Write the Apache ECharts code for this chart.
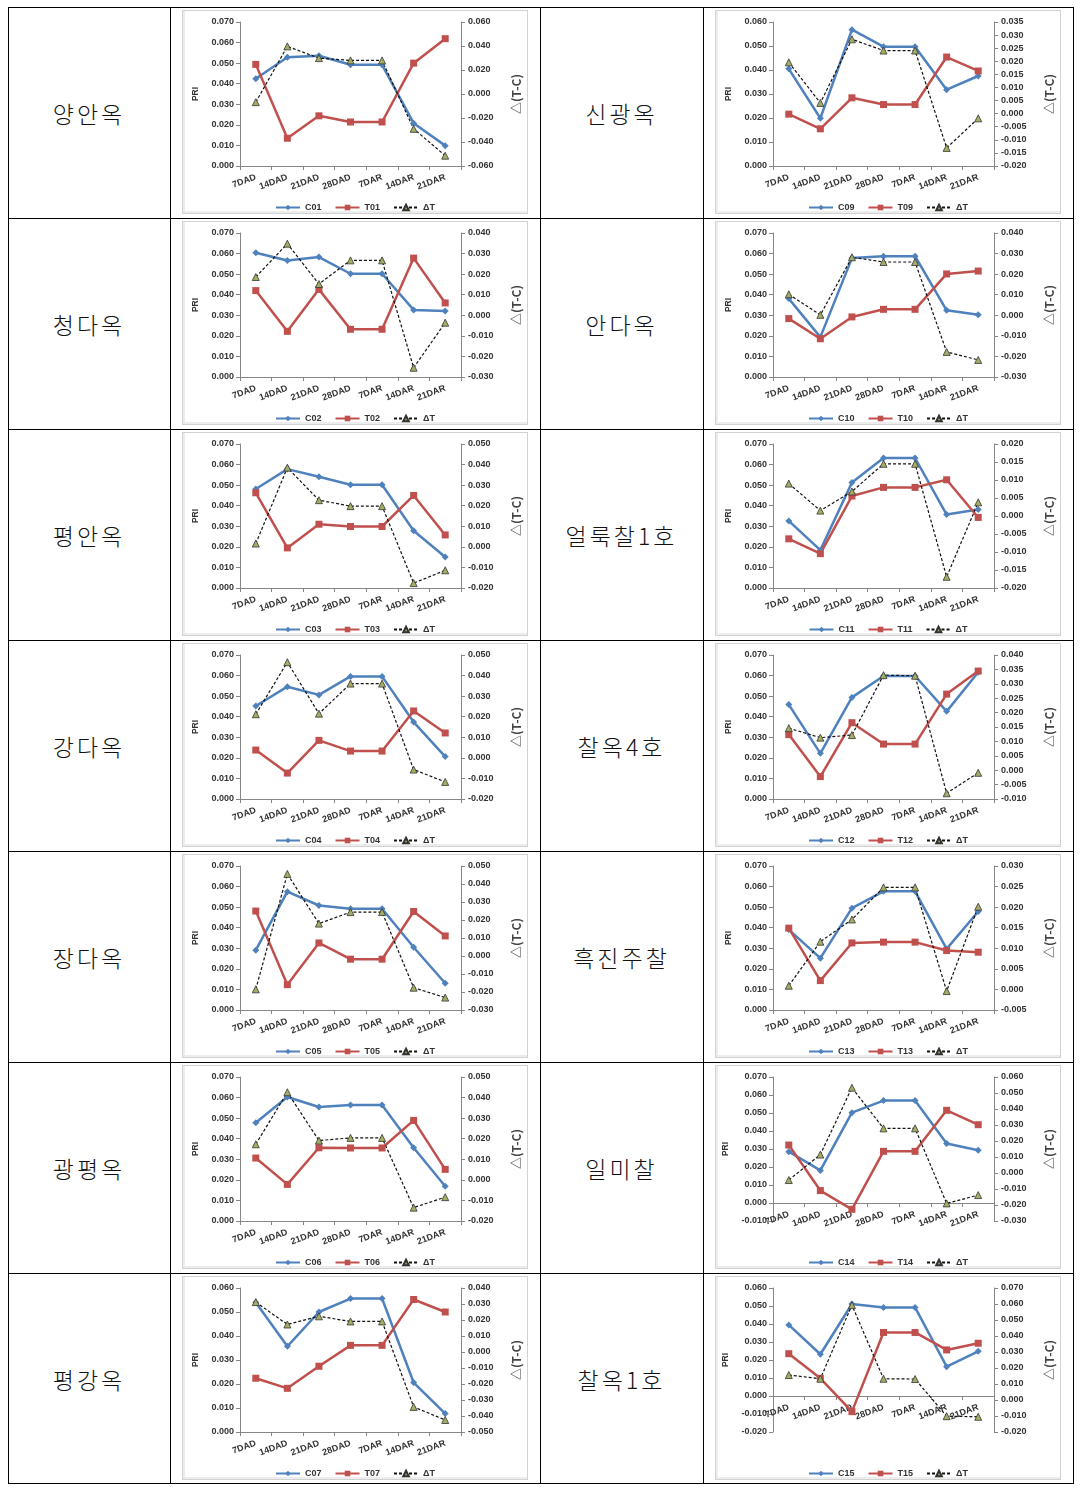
<!DOCTYPE html>
<html>
<head>
<meta charset="utf-8">
<script src="https://cdn.jsdelivr.net/npm/echarts/dist/echarts.min.js"></script>
<style>
  html, body { margin: 0; padding: 0; background: #fff; }
  body { width: 1084px; height: 1495px; position: relative; overflow: hidden; }
  .hl { position: absolute; height: 1px; background: #000; }
  .vl { position: absolute; width: 1px; background: #000; }
  .frame { position: absolute; border: 1px solid #d2d2d2; box-shadow: inset 2px -2px 0 #ededed; box-sizing: border-box; }
  .lab { position: absolute; display: flex; align-items: center; justify-content: center;
         font-family: "Noto Sans CJK KR", sans-serif; font-size: 23px; letter-spacing: 3px; color: #111; font-weight: 300; }
  .chart { position: absolute; width: 370px; height: 211px; }
</style>
</head>
<body>
<script>
// ---------------- data ----------------
const categories = ['7DAD', '14DAD', '21DAD', '28DAD', '7DAR', '14DAR', '21DAR'];
const varieties = ['양안옥', '청다옥', '평안옥', '강다옥', '장다옥', '광평옥', '평강옥',
                   '신광옥', '안다옥', '얼룩찰1호', '찰옥4호', '흑진주찰', '일미찰', '찰옥1호'];
const codes = ['01', '02', '03', '04', '05', '06', '07', '09', '10', '11', '12', '13', '14', '15'];

const C01 = [0.0424, 0.0529, 0.0536, 0.0492, 0.0492, 0.0208, 0.0099];
const T01 = [0.0494, 0.0135, 0.0244, 0.0214, 0.0214, 0.0500, 0.0619];
const D01 = [-0.0068, 0.0397, 0.0299, 0.0280, 0.0280, -0.0290, -0.0514];

const C02 = [0.0604, 0.0566, 0.0583, 0.0502, 0.0502, 0.0326, 0.0321];
const T02 = [0.0420, 0.0222, 0.0426, 0.0232, 0.0232, 0.0578, 0.0360];
const D02 = [0.0186, 0.0348, 0.0152, 0.0267, 0.0267, -0.0255, -0.0036];

const C03 = [0.0481, 0.0578, 0.0541, 0.0502, 0.0502, 0.0278, 0.0151];
const T03 = [0.0463, 0.0195, 0.0310, 0.0299, 0.0299, 0.0450, 0.0258];
const D03 = [0.0016, 0.0385, 0.0227, 0.0198, 0.0198, -0.0176, -0.0114];

const C04 = [0.0452, 0.0546, 0.0506, 0.0596, 0.0596, 0.0374, 0.0206];
const T04 = [0.0238, 0.0126, 0.0285, 0.0233, 0.0233, 0.0428, 0.0321];
const D04 = [0.0212, 0.0465, 0.0215, 0.0361, 0.0361, -0.0057, -0.0117];

const C05 = [0.0291, 0.0575, 0.0508, 0.0492, 0.0492, 0.0305, 0.0130];
const T05 = [0.0481, 0.0123, 0.0326, 0.0247, 0.0247, 0.0479, 0.0360];
const D05 = [-0.0185, 0.0456, 0.0180, 0.0244, 0.0244, -0.0176, -0.0231];

const C06 = [0.0478, 0.0603, 0.0554, 0.0564, 0.0564, 0.0356, 0.0169];
const T06 = [0.0306, 0.0178, 0.0356, 0.0355, 0.0355, 0.0489, 0.0251];
const D06 = [0.0173, 0.0426, 0.0191, 0.0204, 0.0204, -0.0135, -0.0084];

const C07 = [0.0540, 0.0357, 0.0500, 0.0556, 0.0556, 0.0206, 0.0077];
const T07 = [0.0224, 0.0182, 0.0274, 0.0361, 0.0361, 0.0552, 0.0500];
const D07 = [0.0312, 0.0172, 0.0223, 0.0191, 0.0191, -0.0343, -0.0425];

const C09 = [0.0405, 0.0199, 0.0568, 0.0497, 0.0497, 0.0318, 0.0375];
const T09 = [0.0216, 0.0155, 0.0284, 0.0256, 0.0256, 0.0454, 0.0396];
const D09 = [0.0196, 0.0041, 0.0284, 0.0241, 0.0241, -0.0131, -0.0018];

const C10 = [0.0381, 0.0194, 0.0578, 0.0587, 0.0587, 0.0324, 0.0303];
const T10 = [0.0284, 0.0186, 0.0292, 0.0329, 0.0329, 0.0501, 0.0515];
const D10 = [0.0102, 0.0002, 0.0282, 0.0259, 0.0259, -0.0178, -0.0217];

const C11 = [0.0326, 0.0184, 0.0513, 0.0632, 0.0632, 0.0357, 0.0382];
const T11 = [0.0239, 0.0167, 0.0447, 0.0489, 0.0489, 0.0526, 0.0343];
const D11 = [0.0090, 0.0015, 0.0068, 0.0145, 0.0145, -0.0169, 0.0038];

const C12 = [0.0459, 0.0222, 0.0494, 0.0598, 0.0598, 0.0426, 0.0616];
const T12 = [0.0313, 0.0109, 0.0371, 0.0267, 0.0267, 0.0510, 0.0622];
const D12 = [0.0146, 0.0113, 0.0122, 0.0330, 0.0328, -0.0080, -0.0009];

const C13 = [0.0391, 0.0252, 0.0495, 0.0577, 0.0577, 0.0297, 0.0479];
const T13 = [0.0398, 0.0143, 0.0326, 0.0330, 0.0330, 0.0289, 0.0281];
const D13 = [0.0009, 0.0116, 0.0170, 0.0248, 0.0248, -0.0004, 0.0201];

const C14 = [0.0285, 0.0181, 0.0502, 0.0569, 0.0569, 0.0331, 0.0293];
const T14 = [0.0322, 0.0069, -0.0035, 0.0287, 0.0287, 0.0515, 0.0435];
const D14 = [-0.0044, 0.0115, 0.0533, 0.0279, 0.0279, -0.0190, -0.0138];

const C15 = [0.0395, 0.0232, 0.0511, 0.0492, 0.0492, 0.0163, 0.0248];
const T15 = [0.0235, 0.0098, -0.0087, 0.0353, 0.0353, 0.0256, 0.0293];
const D15 = [0.0156, 0.0133, 0.0593, 0.0133, 0.0131, -0.0101, -0.0105];

// axis ranges (tick labels)
const priMin = [0, 0, 0, 0, 0, 0, 0, 0, 0, 0, 0, 0, -0.01, -0.02];
const priMax = [0.07, 0.07, 0.07, 0.07, 0.07, 0.07, 0.06, 0.06, 0.07, 0.07, 0.07, 0.07, 0.07, 0.06];
const priStep = 0.01;
const dtMin = [-0.06, -0.03, -0.02, -0.02, -0.03, -0.02, -0.05, -0.02, -0.03, -0.02, -0.01, -0.005, -0.03, -0.02];
const dtMax = [0.06, 0.04, 0.05, 0.05, 0.05, 0.05, 0.04, 0.035, 0.04, 0.02, 0.04, 0.03, 0.06, 0.07];
const dtStep = [0.02, 0.01, 0.01, 0.01, 0.01, 0.01, 0.01, 0.005, 0.01, 0.005, 0.005, 0.005, 0.01, 0.01];

const cSeries = [C01, C02, C03, C04, C05, C06, C07, C09, C10, C11, C12, C13, C14, C15];
const tSeries = [T01, T02, T03, T04, T05, T06, T07, T09, T10, T11, T12, T13, T14, T15];
const dSeries = [D01, D02, D03, D04, D05, D06, D07, D09, D10, D11, D12, D13, D14, D15];

// ---------------- layout ----------------
const rowTops = [7, 218, 429, 640, 851, 1062, 1273];
const tableBottom = 1483;
const colX = [8, 170, 540, 703, 1073];
const CH = 211, GTOP = 15, GBOT = 52;
const GH = CH - GTOP - GBOT;

function addDiv(cls, style, text) {
  const d = document.createElement('div');
  d.className = cls;
  Object.assign(d.style, style);
  if (text) d.textContent = text;
  document.body.appendChild(d);
  return d;
}

// table lines
rowTops.concat([tableBottom]).forEach(y => addDiv('hl', { left: colX[0] + 'px', top: y + 'px', width: (colX[4] - colX[0] + 1) + 'px' }));
colX.forEach(x => addDiv('vl', { left: x + 'px', top: rowTops[0] + 'px', height: (tableBottom - rowTops[0] + 1) + 'px' }));

const AX = '#868686';
const TXT = '#333';
const FF = 'Liberation Sans, Arial, sans-serif';
const fmt = v => v.toFixed(3);

for (let i = 0; i < 14; i++) {
  const col = i < 7 ? 0 : 1;
  const row = i % 7;
  const top = rowTops[row];
  const labLeft = col === 0 ? colX[0] : colX[2];
  const labRight = col === 0 ? colX[1] : colX[3];
  const cellX = col === 0 ? colX[1] : colX[3];

  addDiv('lab', { left: labLeft + 'px', top: top + 'px', width: (labRight - labLeft) + 'px', height: CH + 'px' }, varieties[i]);
  addDiv('frame', { left: (cellX + 12) + 'px', top: (top + 3) + 'px', width: '346px', height: '204px' });

  const el = addDiv('chart', { left: cellX + 'px', top: top + 'px' });
  const chart = echarts.init(el, null, { renderer: 'canvas' });
  const cName = 'C' + codes[i], tName = 'T' + codes[i], dName = 'ΔT';
  // category axis crosses the PRI axis at zero
  const zeroShift = priMin[i] < 0 ? -GH * (-priMin[i]) / (priMax[i] - priMin[i]) : 0;

  chart.setOption({
    animation: false,
    grid: { left: 70, right: 79, top: GTOP, bottom: GBOT },
    legend: {
      data: [cName, tName, dName],
      top: 191, left: 'center',
      itemWidth: 24, itemHeight: 7, itemGap: 13,
      textStyle: { fontSize: 9, fontWeight: 'bold', color: TXT, fontFamily: FF }
    },
    xAxis: {
      type: 'category', data: categories, boundaryGap: true,
      offset: zeroShift,
      axisLine: { show: true, onZero: false, lineStyle: { color: AX, width: 1 } },
      axisTick: { show: true, inside: false, length: 4, lineStyle: { color: AX } },
      axisLabel: { interval: 0, rotate: 20, margin: 11, fontSize: 9, fontWeight: 'bold', color: TXT, fontFamily: FF },
      splitLine: { show: false }
    },
    yAxis: [
      {
        type: 'value', position: 'left', min: priMin[i], max: priMax[i], interval: priStep,
        name: 'PRI', nameLocation: 'middle', nameGap: 38,
        nameTextStyle: { fontSize: 8.5, fontWeight: 'bold', color: TXT, fontFamily: FF },
        axisLine: { show: true, onZero: false, lineStyle: { color: AX } },
        axisTick: { show: true, inside: false, length: 4, lineStyle: { color: AX } },
        axisLabel: { formatter: fmt, fontSize: 9, fontWeight: 'bold', color: TXT, margin: 6, fontFamily: FF },
        splitLine: { show: false }
      },
      {
        type: 'value', position: 'right', min: dtMin[i], max: dtMax[i], interval: dtStep[i],
        name: '△(T-C)', nameLocation: 'middle', nameGap: 49,
        nameTextStyle: { fontSize: 12, fontWeight: 'bold', color: '#444', fontFamily: 'Noto Sans CJK KR, sans-serif' },
        axisLine: { show: true, onZero: false, lineStyle: { color: AX } },
        axisTick: { show: true, inside: false, length: 4, lineStyle: { color: AX } },
        axisLabel: { formatter: fmt, fontSize: 9, fontWeight: 'bold', color: TXT, margin: 7, fontFamily: FF },
        splitLine: { show: false }
      }
    ],
    series: [
      {
        name: cName, type: 'line', yAxisIndex: 0, data: cSeries[i],
        symbol: 'diamond', symbolSize: 7,
        lineStyle: { color: '#4f81bd', width: 2.5 },
        itemStyle: { color: '#4f81bd' }
      },
      {
        name: tName, type: 'line', yAxisIndex: 0, data: tSeries[i],
        symbol: 'rect', symbolSize: 7,
        lineStyle: { color: '#c0504d', width: 2.5 },
        itemStyle: { color: '#c0504d' }
      },
      {
        name: dName, type: 'line', yAxisIndex: 1, data: dSeries[i],
        symbol: 'triangle', symbolSize: 7,
        lineStyle: { color: '#111', width: 1.2, type: [3, 2] },
        itemStyle: { color: '#a5ad62', borderColor: '#333', borderWidth: 0.8 }
      }
    ]
  });
}
</script>
</body>
</html>
